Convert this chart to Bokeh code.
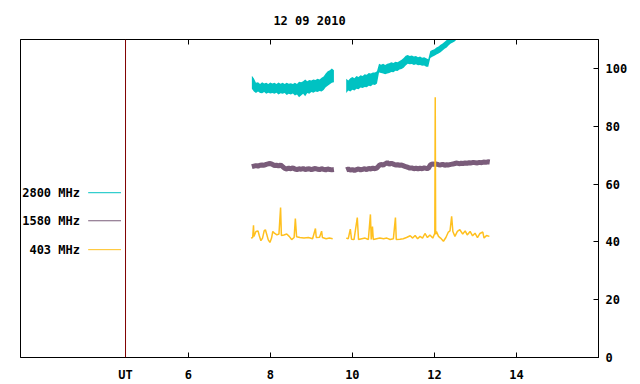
import numpy as np
from bokeh.plotting import figure
from bokeh.models import Range1d, LinearAxis, FixedTicker, Span, Label, CustomJSTickFormatter
from bokeh.embed import file_html
from bokeh.resources import INLINE

# ---------------- data ----------------
title_text = "12 09 2010"
x_tick_hours = [6, 8, 10, 12, 14]
ut_hour = 4.47
y_tick_values = [0, 20, 40, 60, 80, 100]
series_names = ["2800 MHz", "1580 MHz", "403 MHz"]

sample_step = 0.05          # hours between read-off samples
seg1_start = 7.55           # first observing block start (UT hours)
seg2_start = 9.85           # second observing block start (UT hours)

# 2800 MHz: lower / upper edge of the noisy trace (sfu)
f2800_seg1_lo = [93.0, 92.0, 91.5, 92.0, 91.5, 91.4, 91.8, 91.2, 91.6, 91.3,
                 91.5, 91.2, 91.6, 91.0, 91.4, 91.2, 91.5, 90.8, 91.2, 91.0,
                 91.3, 90.6, 91.0, 90.0, 90.6, 91.2, 90.4, 91.5, 91.2, 91.8,
                 91.6, 92.0, 91.8, 92.2, 92.0, 92.5, 93.5, 94.0, 94.5, 95.0, 95.2]
f2800_seg1_hi = [97.5, 96.5, 95.0, 95.2, 94.6, 95.2, 94.8, 95.0, 94.6, 95.1,
                 94.8, 95.0, 94.6, 95.1, 94.7, 95.0, 94.6, 95.0, 94.7, 94.9,
                 94.6, 95.0, 94.6, 95.4, 95.2, 95.6, 96.2, 95.6, 96.0, 95.8,
                 96.2, 96.0, 96.4, 96.2, 96.8, 97.2, 98.2, 99.0, 99.4, 100.0, 99.4]
f2800_seg2_lo = [91.5, 92.4, 92.0, 92.6, 92.4, 93.0, 92.8, 93.4, 93.2, 93.6,
                 93.5, 94.0, 93.8, 94.4, 94.3, 94.8, 98.6, 98.4, 98.2, 98.0,
                 98.2, 98.4, 98.8, 98.7, 99.2, 99.1, 99.6, 99.8, 100.2, 101.0,
                 101.6, 101.4, 101.5, 101.2, 101.4, 101.1, 101.2, 100.9, 101.0, 100.6,
                 100.6, 103.6, 104.0, 104.4, 104.8, 105.2, 105.6, 106.2, 106.8, 107.2,
                 108.0, 108.6, 109.0, 109.4, 110.2, 110.8, 111.2, 111.8, 112.2, 112.6,
                 113.2, 113.6, 114.0, 114.6, 115.0, 115.4, 115.8, 116.2, 116.6, 117.0, 117.4]
f2800_seg2_hi = [96.4, 95.8, 96.6, 97.0, 96.6, 97.4, 97.0, 97.6, 97.4, 98.0,
                 97.8, 98.4, 98.2, 98.6, 98.6, 99.0, 101.6, 101.3, 101.6, 101.2,
                 101.6, 101.8, 102.1, 101.9, 102.3, 102.1, 102.6, 103.0, 103.6, 104.4,
                 104.6, 104.3, 104.5, 104.1, 104.3, 103.9, 104.1, 103.7, 103.9, 103.5,
                 103.2, 106.0, 106.4, 106.6, 107.2, 107.6, 108.2, 108.6, 109.2, 109.8,
                 110.6, 111.2, 111.6, 112.0, 112.6, 113.2, 113.8, 114.2, 114.8, 115.2,
                 115.8, 116.2, 116.6, 117.2, 117.6, 118.0, 118.4, 118.8, 119.2, 119.6, 120.0]

# 1580 MHz (sfu)
f1580_seg1 = [66.0, 66.2, 66.4, 66.2, 66.5, 66.6, 66.5, 66.8, 67.0, 67.1,
              66.8, 66.4, 66.5, 66.3, 66.6, 66.0, 65.4, 65.2, 65.5, 65.3,
              65.6, 65.2, 65.0, 65.3, 65.1, 65.4, 65.0, 65.2, 65.3, 65.0,
              65.2, 65.4, 65.1, 65.0, 65.3, 65.1, 64.9, 65.2, 65.0, 64.9, 65.0]
f1580_seg2 = [64.9, 65.2, 64.8, 65.0, 64.7, 65.0, 65.2, 64.9, 65.1, 65.3,
              65.0, 65.4, 65.2, 65.5, 65.3, 65.6, 66.4, 66.8, 66.5, 67.0,
              67.4, 66.9, 67.2, 66.9, 66.6, 66.7, 66.5, 66.6, 66.3, 66.0,
              65.8, 65.5, 65.6, 65.3, 65.5, 65.2, 65.5, 65.3, 65.6, 65.4,
              65.4, 66.6, 67.0, 66.8, 66.9, 66.7, 66.6, 66.8, 66.5, 66.7,
              66.6, 66.8, 66.9, 67.1, 67.3, 67.0, 67.2, 67.1, 67.3, 67.2,
              67.4, 67.3, 67.5, 67.4, 67.3, 67.5, 67.4, 67.6, 67.5, 67.7, 67.6]

# 403 MHz (sfu), read point by point, including spikes
f403_hours = [7.53, 7.57, 7.59, 7.60, 7.65, 7.70, 7.73, 7.77, 7.81, 7.85,
              7.88, 7.91, 7.95, 7.99, 8.03, 8.06, 8.10, 8.16, 8.21, 8.25,
              8.27, 8.33, 8.40, 8.46, 8.52, 8.58, 8.61, 8.64, 8.72, 8.82,
              8.93, 9.03, 9.10, 9.12, 9.20, 9.25, 9.27, 9.36, 9.44, 9.52,
              float("nan"),
              9.85, 9.90, 9.95, 9.98, 10.04, 10.12, 10.15, 10.23, 10.31, 10.39,
              10.44, 10.46, 10.49, 10.51, 10.59, 10.67, 10.76, 10.84, 10.92, 11.00,
              11.05, 11.07, 11.16, 11.24, 11.32, 11.41, 11.47, 11.53, 11.59, 11.65,
              11.71, 11.77, 11.83, 11.89, 11.96, 12.01, 12.02, 12.03, 12.05, 12.10,
              12.15, 12.22, 12.28, 12.34, 12.38, 12.42, 12.45, 12.50, 12.56, 12.62,
              12.69, 12.75, 12.80, 12.87, 12.93, 12.99, 13.05, 13.11, 13.18, 13.21,
              13.27, 13.34]
f403_values = [41.3, 41.5, 45.7, 41.9, 43.6, 43.8, 42.2, 40.4, 41.3, 43.8,
               44.2, 42.7, 40.7, 39.8, 41.3, 43.6, 43.0, 42.4, 42.7, 51.9,
               42.2, 42.4, 42.7, 41.9, 40.8, 41.5, 48.1, 41.8, 41.5, 41.3,
               41.5, 41.1, 44.6, 41.5, 41.6, 43.7, 41.5, 41.1, 41.3, 41.1,
               float("nan"),
               41.3, 41.1, 44.4, 40.9, 40.8, 48.4, 40.8, 41.1, 41.3, 40.8,
               49.5, 40.8, 45.3, 40.8, 41.1, 41.3, 41.1, 41.3, 40.8, 41.1,
               48.4, 40.8, 40.9, 41.1, 41.5, 42.1, 41.3, 42.2, 41.1, 41.9,
               41.3, 42.9, 41.5, 42.4, 41.3, 43.0, 90.0, 42.6, 43.6, 41.9,
               41.3, 40.2, 41.5, 43.4, 43.8, 48.8, 43.6, 41.9, 43.6, 44.2,
               42.7, 43.8, 42.4, 43.6, 42.1, 43.0, 41.5, 42.9, 43.4, 41.3,
               42.2, 41.9]

# ---------------- styles ----------------
c2800 = "#00c2c2"
c1580 = "#7a5c7a"
c403 = "#ffc01f"
ut_color = "#800000"
font = "DejaVu Sans Mono"


def hours_from(start, n):
    return [round(start + sample_step * i, 3) for i in range(n)]


p = figure(frame_width=578, frame_height=318,
           x_range=Range1d(1.91, 16.0), y_range=Range1d(0, 110),
           y_axis_location="right", output_backend="svg", toolbar_location=None,
           min_border_left=20, min_border_top=38, min_border_right=0, min_border_bottom=0)
p.background_fill_color = "white"
p.border_fill_color = "white"
p.outline_line_color = "black"
p.outline_line_width = 1
p.xgrid.visible = False
p.ygrid.visible = False

p.title.text = title_text
p.title.align = "center"
p.title.text_font = font
p.title.text_font_size = "12px"
p.title.text_font_style = "bold"
p.title.text_color = "black"
p.title.offset = 0
p.title.standoff = 23

# bottom axis
xa = p.xaxis[0]
xa.ticker = FixedTicker(ticks=[ut_hour] + x_tick_hours)
xa.formatter = CustomJSTickFormatter(args=dict(ut=ut_hour),
                                     code="return Math.abs(tick - ut) < 1e-6 ? 'UT' : tick.toFixed(0);")
xa.major_tick_in = 5
xa.major_tick_out = 0
xa.minor_tick_in = 0
xa.minor_tick_out = 0
xa.major_label_standoff = 10
xa.major_label_text_font = font
xa.major_label_text_font_size = "12px"
xa.major_label_text_font_style = "bold"
xa.major_label_text_color = "black"
xa.axis_line_color = "black"

# right axis
ya = p.yaxis[0]
ya.ticker = FixedTicker(ticks=y_tick_values)
ya.major_tick_in = 5
ya.major_tick_out = 0
ya.minor_tick_in = 0
ya.minor_tick_out = 0
ya.major_label_standoff = 7
ya.major_label_text_font = font
ya.major_label_text_font_size = "12px"
ya.major_label_text_font_style = "bold"
ya.major_label_text_color = "black"
ya.axis_line_color = "black"

# top mirror ticks
top = LinearAxis(ticker=FixedTicker(ticks=x_tick_hours),
                 formatter=CustomJSTickFormatter(code="return '';"),
                 major_tick_in=5, major_tick_out=0, minor_tick_in=0, minor_tick_out=0,
                 major_label_standoff=0, major_label_text_font_size="1px",
                 axis_line_color="black")
p.add_layout(top, "above")

# UT marker line
p.add_layout(Span(location=ut_hour, dimension="height", line_color=ut_color, line_width=1))

# 2800 MHz band
p.varea(x=hours_from(seg1_start, len(f2800_seg1_lo)), y1=f2800_seg1_lo, y2=f2800_seg1_hi,
        fill_color=c2800)
p.varea(x=hours_from(seg2_start, len(f2800_seg2_lo)), y1=f2800_seg2_lo, y2=f2800_seg2_hi,
        fill_color=c2800)

# 1580 MHz
p.line(hours_from(seg1_start, len(f1580_seg1)), f1580_seg1, line_color=c1580, line_width=5)
p.line(hours_from(seg2_start, len(f1580_seg2)), f1580_seg2, line_color=c1580, line_width=5)

# 403 MHz
p.line(f403_hours, f403_values, line_color=c403, line_width=1.5)

# legend (label then sample line, gnuplot style)
legend_text_x = 3.36
legend_line_x0 = 3.56
legend_line_x1 = 4.36
legend_rows_y = [57.0, 47.3, 37.3]
for name, col, yy in zip(series_names, [c2800, c1580, c403], legend_rows_y):
    p.add_layout(Label(x=legend_text_x, y=yy, text=name, text_align="right",
                       text_baseline="middle", text_font=font, text_font_size="12px",
                       text_font_style="bold", text_color="black"))
    p.segment(x0=[legend_line_x0], y0=[yy], x1=[legend_line_x1], y1=[yy],
              line_color=col, line_width=1)

open("out.html", "w").write(file_html(p, INLINE))
